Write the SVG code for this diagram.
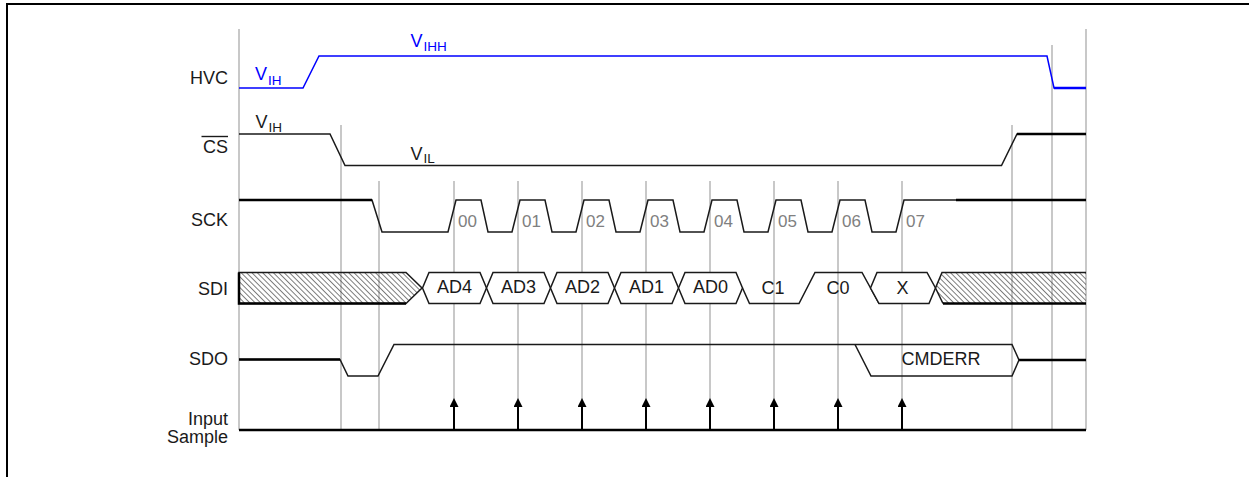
<svg xmlns="http://www.w3.org/2000/svg" width="1249" height="477" viewBox="0 0 1249 477">
<style>
.lbl{font-family:"Liberation Sans",Arial,sans-serif;font-size:18px;fill:#1a1a1a}
.num{font-family:"Liberation Sans",Arial,sans-serif;font-size:17px;fill:#808080}
.bus{font-family:"Liberation Sans",Arial,sans-serif;font-size:18px;fill:#1a1a1a;text-anchor:middle}
.end{text-anchor:end}
.bluet{font-family:"Liberation Sans",Arial,sans-serif;font-size:18px;fill:#0000ff}
.sub{font-size:13.5px}
.guide{stroke:#c8c8c8;stroke-width:2;fill:none}
.sig{stroke:#1a1a1a;stroke-width:1.5;fill:none}
.thick{stroke:#000;stroke-width:2.5;fill:none}
.blue{stroke:#0000ff;stroke-width:1.5;fill:none}
.hex{stroke:#1a1a1a;stroke-width:1.5;fill:#fff}
.arrow{stroke:#000;stroke-width:2;fill:none;marker-end:url(#ah)}
</style>
<defs>
<pattern id="hatch" width="3.8" height="3.8" patternUnits="userSpaceOnUse" patternTransform="rotate(-45)">
<line x1="0.5" y1="0" x2="0.5" y2="3.8" stroke="#444" stroke-width="0.7"/>
</pattern>
<marker id="ah" markerWidth="9" markerHeight="9" viewBox="0 0 9 9" refX="3" refY="4.5" orient="auto" markerUnits="userSpaceOnUse">
<path d="M0,0 L9,4.5 L0,9 z" fill="#000"/>
</marker>
</defs>
<rect width="1249" height="477" fill="#fff"/>
<path d="M7,477 V4 H1249" stroke="#000" stroke-width="2" fill="none"/>

<g id="guides">
<path class="guide" d="M239,29 V430 M341,125 V430 M379,181 V430 M454,181 V430 M518,181 V430 M582,181 V430 M646,181 V430 M710,181 V430 M774,181 V430 M838,181 V430 M902,181 V430 M1012,125 V430 M1052,45 V430 M1086,29 V430"/>
</g>

<g id="hvc">
<text class="lbl end" x="228" y="84">HVC</text>
<polyline class="blue" points="239,88 303,88 319,56 1047,56 1054,88 1086,88"/>
<path stroke="#0000ff" stroke-width="2.5" d="M1054,88 H1086"/>
<text class="bluet" x="255" y="80">V<tspan class="sub" dx="1" dy="5">IH</tspan></text>
<text class="bluet" x="410.5" y="46.5">V<tspan class="sub" dx="1" dy="4.5">IHH</tspan></text>
</g>

<g id="cs">
<text class="lbl end" x="228" y="153">CS</text>
<path stroke="#1a1a1a" stroke-width="1.4" d="M201.5,136.5 H228"/>
<polyline class="sig" points="239,134 330,134 345,165.5 1001.5,165.5 1017,134 1086,134"/>
<path class="thick" d="M1017,134 H1086"/>
<text class="lbl" x="255.5" y="127.5">V<tspan class="sub" dx="1" dy="4.5">IH</tspan></text>
<text class="lbl" x="410.5" y="160">V<tspan class="sub" dx="1" dy="3">IL</tspan></text>
</g>

<g id="sck">
<text class="lbl end" x="228" y="225.5">SCK</text>
<path class="sig" d="M239,200 H372 L382,232 H448 L456,200 H481 L488,232 H512 L520,200 H545 L552,232 H576 L584,200 H609 L616,232 H640 L648,200 H673 L680,232 H704 L712,200 H737 L744,232 H768 L776,200 H801 L808,232 H832 L840,200 H865 L872,232 H896 L904,200 H1086"/>
<path class="thick" d="M239,200 H372 M956,200 H1086"/>
<text class="num" x="458" y="226.5">00</text>
<text class="num" x="522" y="226.5">01</text>
<text class="num" x="586" y="226.5">02</text>
<text class="num" x="650" y="226.5">03</text>
<text class="num" x="714" y="226.5">04</text>
<text class="num" x="778" y="226.5">05</text>
<text class="num" x="842" y="226.5">06</text>
<text class="num" x="906" y="226.5">07</text>
</g>

<g id="sdi">
<text class="lbl end" x="228" y="295">SDI</text>
<polygon points="239,272.5 406,272.5 422,288 406,303.5 239,303.5" fill="url(#hatch)" stroke="#1a1a1a" stroke-width="1.5"/>
<path class="thick" d="M239,272.5 V303.5 H406"/>
<polygon class="hex" points="422.5,288 429,272.5 480,272.5 486.5,288 480,303.5 429,303.5"/>
<polygon class="hex" points="486.5,288 493,272.5 544,272.5 550.5,288 544,303.5 493,303.5"/>
<polygon class="hex" points="550.5,288 557,272.5 608,272.5 614.5,288 608,303.5 557,303.5"/>
<polygon class="hex" points="614.5,288 621,272.5 672,272.5 678.5,288 672,303.5 621,303.5"/>
<polygon class="hex" points="678.5,288 685,272.5 736,272.5 742.5,288 736,303.5 685,303.5"/>
<path class="sig" d="M742.5,288 L749.5,303.5 H799 L815,272.5 H862 L879,303.5"/>
<polygon class="hex" points="870.5,288 877,272.5 927,272.5 935.5,288 929,303.5 879,303.5"/>
<polygon points="935.5,288 942,272.5 1086,272.5 1086,303.5 943,303.5" fill="url(#hatch)"/>
<path class="sig" d="M1086,272.5 H942 L935.5,288 L943,303.5"/>
<path class="thick" d="M943,303.5 H1086"/>
<text class="bus" x="454.5" y="293">AD4</text>
<text class="bus" x="518.5" y="293">AD3</text>
<text class="bus" x="582.5" y="293">AD2</text>
<text class="bus" x="646.5" y="293">AD1</text>
<text class="bus" x="710.5" y="293">AD0</text>
<text class="bus" x="773" y="293.5">C1</text>
<text class="bus" x="838" y="293.5">C0</text>
<text class="bus" x="902.5" y="293.5">X</text>
</g>

<g id="sdo">
<text class="lbl end" x="228" y="365">SDO</text>
<path class="sig" d="M239,359.5 H340 L348,376 H378 L394,344.5 H1012 L1019,360 H1086"/>
<path class="thick" d="M239,359.5 H340 M1019,360 H1086"/>
<path class="sig" d="M855,344.5 L871,376 H1012 L1019,360"/>
<text class="bus" x="941" y="365">CMDERR</text>
</g>

<g id="input-sample">
<text class="lbl end" x="228" y="425">Input</text>
<text class="lbl end" x="228" y="443">Sample</text>
<path class="thick" d="M239,430 H1086"/>
</g>

<g id="connectors">
<path class="arrow" d="M454,430 V404"/>
<path class="arrow" d="M518,430 V404"/>
<path class="arrow" d="M582,430 V404"/>
<path class="arrow" d="M646,430 V404"/>
<path class="arrow" d="M710,430 V404"/>
<path class="arrow" d="M774,430 V404"/>
<path class="arrow" d="M838,430 V404"/>
<path class="arrow" d="M902,430 V404"/>
</g>
</svg>
